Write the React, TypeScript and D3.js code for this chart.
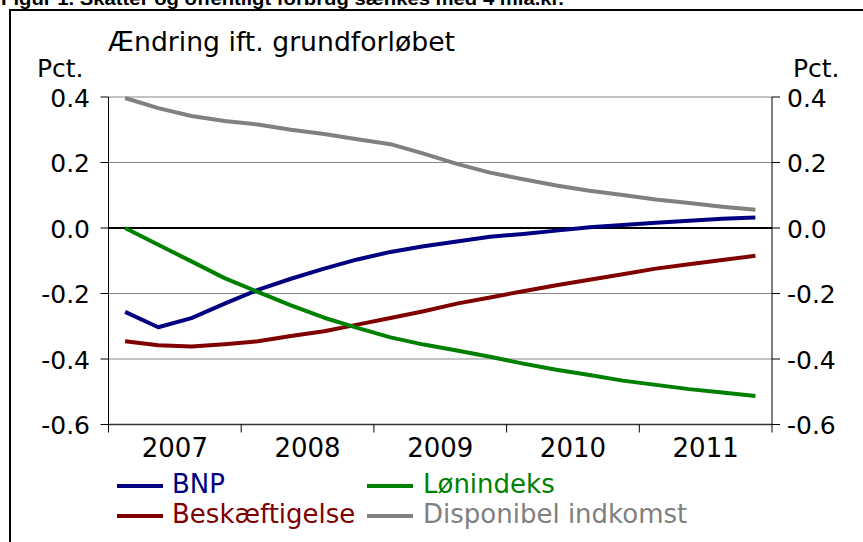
import React from 'react';
import * as d3 from 'd3';

// quarterly effects, pct. deviation from baseline, 2007K1..2011K4
const years = ['2007', '2008', '2009', '2010', '2011'];
const quarters = years.flatMap(y => ['K1', 'K2', 'K3', 'K4'].map(q => y + q));

const bnp = [-0.256, -0.303, -0.275, -0.231, -0.189, -0.155, -0.124, -0.096, -0.073, -0.056,
  -0.041, -0.027, -0.018, -0.008, 0.002, 0.009, 0.016, 0.022, 0.028, 0.032];
const beskaeftigelse = [-0.346, -0.358, -0.362, -0.355, -0.346, -0.330, -0.315, -0.295, -0.275, -0.254,
  -0.231, -0.212, -0.193, -0.175, -0.158, -0.141, -0.124, -0.111, -0.098, -0.085];
const loenindeks = [0, -0.051, -0.102, -0.153, -0.195, -0.236, -0.274, -0.305, -0.334, -0.356,
  -0.374, -0.393, -0.414, -0.433, -0.449, -0.466, -0.479, -0.492, -0.502, -0.513];
const disponibel = [0.397, 0.366, 0.342, 0.327, 0.316, 0.300, 0.287, 0.271, 0.256, 0.227,
  0.196, 0.169, 0.149, 0.130, 0.114, 0.101, 0.087, 0.076, 0.065, 0.056];

const yTicks = [0.4, 0.2, 0.0, -0.2, -0.4, -0.6];

const series = [
  { name: 'BNP', values: bnp, color: '#000080' },
  { name: 'Beskæftigelse', values: beskaeftigelse, color: '#800000' },
  { name: 'Lønindeks', values: loenindeks, color: '#008000' },
  { name: 'Disponibel indkomst', values: disponibel, color: '#808080' },
];

const W = 863, H = 542;
const font = 'DejaVu Sans, Verdana, sans-serif';

export default function App() {
  const x = d3.scaleBand<string>().domain(quarters).range([108.5, 772]);
  const y = d3.scaleLinear().domain([-0.6, 0.4]).range([424.5, 97]);
  const bw = x.bandwidth();

  const line = d3.line<number>()
    .x((_, i) => (x(quarters[i]) as number) + bw / 2)
    .y(d => y(d));

  const [x0, x1] = x.range();
  const legendPos = [
    { lx: 117, tx: 172, by: 493 },
    { lx: 117, tx: 172, by: 523 },
    { lx: 367, tx: 423, by: 493 },
    { lx: 367, tx: 423, by: 523 },
  ];

  return (
    <div style={{ position: 'fixed', left: 0, top: 0 }}>
      <svg width={W} height={H} style={{ display: 'block', background: '#fff' }}>
        <text x={1} y={5} fontFamily="Liberation Sans, Arial, sans-serif" fontWeight="bold" fontSize={19}
          textLength={563} lengthAdjust="spacingAndGlyphs">
          Figur 1. Skatter og offentligt forbrug sænkes med 4 mia.kr.
        </text>
        <rect x={10} y={10} width={W + 20} height={H + 20} fill="none" stroke="#000" strokeWidth={2} />

        <text x={108} y={51} fontFamily={font} fontSize={26} textLength={347} lengthAdjust="spacingAndGlyphs">
          Ændring ift. grundforløbet
        </text>
        <text x={37} y={77} fontFamily={font} fontSize={25}>Pct.</text>
        <text x={793} y={77} fontFamily={font} fontSize={25}>Pct.</text>

        {/* gridlines */}
        {yTicks.filter(t => t !== 0 && t !== -0.6).map(t => (
          <line key={t} x1={x0} x2={x1} y1={y(t)} y2={y(t)} stroke="#888" strokeWidth={1} />
        ))}

        {/* axes */}
        <line x1={x0} x2={x0} y1={y(0.4)} y2={y(-0.6)} stroke="#000" strokeWidth={1} />
        <line x1={x1} x2={x1} y1={y(0.4)} y2={y(-0.6)} stroke="#000" strokeWidth={1} />
        <line x1={x0} x2={x1} y1={y(-0.6)} y2={y(-0.6)} stroke="#333" strokeWidth={1.5} />
        {yTicks.map(t => (
          <g key={t}>
            <line x1={x0 - 8} x2={x0} y1={y(t)} y2={y(t)} stroke="#000" />
            <line x1={x1} x2={x1 + 8} y1={y(t)} y2={y(t)} stroke="#000" />
            <text x={90} y={y(t) + 9.5} textAnchor="end" fontFamily={font} fontSize={25}>{t.toFixed(1)}</text>
            <text x={787} y={y(t) + 9.5} fontFamily={font} fontSize={25}>{t.toFixed(1)}</text>
          </g>
        ))}
        {years.map(yr => {
          const bx = x(yr + 'K1') as number;
          return (
            <g key={yr}>
              <line x1={bx} x2={bx} y1={y(-0.6)} y2={y(-0.6) + 8} stroke="#000" />
              <text x={bx + bw * 2} y={457} textAnchor="middle" fontFamily={font} fontSize={26}>{yr}</text>
            </g>
          );
        })}
        <line x1={x1} x2={x1} y1={y(-0.6)} y2={y(-0.6) + 8} stroke="#000" />
        <line x1={x0} x2={x1} y1={y(0)} y2={y(0)} stroke="#000" strokeWidth={2} />

        {series.map(s => (
          <path key={s.name} d={line(s.values) || ''} fill="none" stroke={s.color} strokeWidth={4}
            strokeLinejoin="round" />
        ))}

        {series.map((s, i) => (
          <g key={s.name}>
            <line x1={legendPos[i].lx} x2={legendPos[i].lx + 46} y1={legendPos[i].by - 7} y2={legendPos[i].by - 7}
              stroke={s.color} strokeWidth={4} />
            <text x={legendPos[i].tx} y={legendPos[i].by} fontFamily={font} fontSize={26} fill={s.color}>{s.name}</text>
          </g>
        ))}
      </svg>
    </div>
  );
}
